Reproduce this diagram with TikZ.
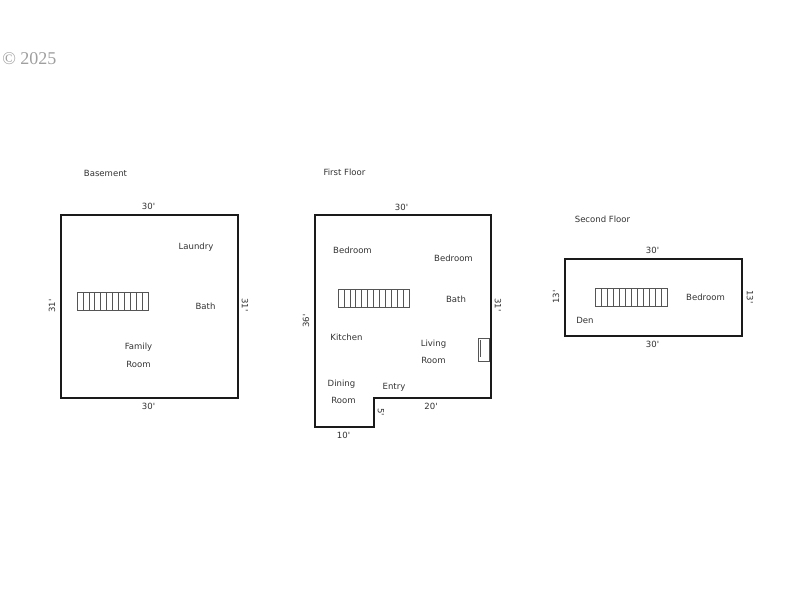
\documentclass[tikz,border=0pt]{standalone}
\usepackage{fontspec}
\newfontfamily\lblfont{DejaVu Sans}
\newfontfamily\copyfont{Liberation Serif}
\definecolor{wallc}{HTML}{1A1A1A}
\definecolor{thinc}{HTML}{555555}
\definecolor{txtc}{HTML}{333333}
\tikzset{
 wall/.style={draw=wallc,line width=1.6pt,line join=miter},
 thinline/.style={draw=thinc,line width=0.6pt},
 lbl/.style={text=txtc,font=\lblfont\fontsize{6.4}{8}\selectfont,inner sep=0pt},
 lblup/.style={lbl,rotate=90},
 lbldown/.style={lbl,rotate=-90},
 stairbox/.style={thinline}
}
\newcommand{\stairrun}[2]{%
 \draw[stairbox] (#1,#2) rectangle ++(71.5,18);
 \foreach \i in {1,...,11} {\draw[stairbox] ({#1+\i*71.5/12},#2) -- ++(0,18);}
}
\begin{document}
\begin{tikzpicture}[x=0.75pt,y=-0.75pt]
\useasboundingbox (0,0) rectangle (800,600);
\fill[white] (0,0) rectangle (800,600);
\node[text=gray!75,font=\copyfont\fontsize{13.5}{15}\selectfont,inner sep=0pt,anchor=west] (copy) at (2,58.5) {© 2025};
% Basement
\draw[wall] (61,215) rectangle (238,398);
\stairrun{77}{292}
\node[lbl] (bt) at (105.5,173) {Basement};
\node[lbl] (b1) at (148.5,206) {30'};
\node[lbl] (b2) at (148.5,406) {30'};
\node[lblup] (b3) at (52,306) {31'};
\node[lbldown] (b4) at (245,305) {31'};
\node[lbl] (b5) at (196,247) {Laundry};
\node[lbl] (b6) at (205.5,306) {Bath};
\node[lbl] (b7) at (138.5,347) {Family};
\node[lbl] (b8) at (138.5,364) {Room};
% First floor
\draw[wall] (315,215) -- (491,215) -- (491,398) -- (374,398) -- (374,427) -- (315,427) -- cycle;
\stairrun{338}{289}
\draw[thinline] (478,338) rectangle (489,361);
\draw[thinline] (480,340) -- (480,357);
\node[lbl] (f0) at (344.5,172) {First Floor};
\node[lbl] (f1) at (401.5,207) {30'};
\node[lblup] (f2) at (306,321) {36'};
\node[lbldown] (f3) at (498,305) {31'};
\node[lbl] (f4) at (352.5,250) {Bedroom};
\node[lbl] (f5) at (453.5,258) {Bedroom};
\node[lbl] (f6) at (456,299) {Bath};
\node[lbl] (f7) at (346.5,337) {Kitchen};
\node[lbl] (f8) at (433.5,344) {Living};
\node[lbl] (f9) at (433.5,360) {Room};
\node[lbl] (f10) at (341.5,384) {Dining};
\node[lbl] (f11) at (343.5,400) {Room};
\node[lbl] (f12) at (394,387) {Entry};
\node[lbl] (f13) at (431,406.5) {20'};
\node[lbldown] (f14) at (381,412) {5'};
\node[lbl] (f15) at (343.5,435) {10'};
% Second floor
\draw[wall] (565,259) rectangle (742,336);
\stairrun{595.5}{288.5}
\node[lbl] (s0) at (602.5,219) {Second Floor};
\node[lbl] (s1) at (652.5,250) {30'};
\node[lbl] (s2) at (652.5,344) {30'};
\node[lblup] (s3) at (556,297) {13'};
\node[lbldown] (s4) at (750,297) {13'};
\node[lbl] (s5) at (705.5,297) {Bedroom};
\node[lbl] (s6) at (585,320) {Den};
\end{tikzpicture}
\end{document}
